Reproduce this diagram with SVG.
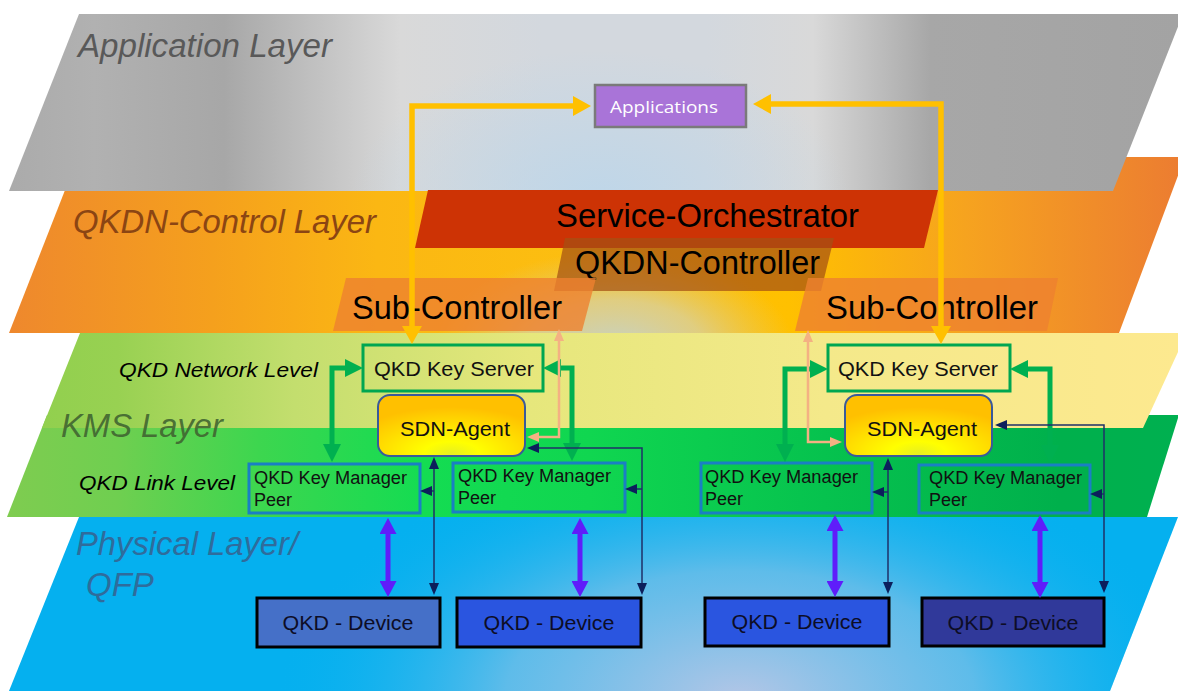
<svg xmlns="http://www.w3.org/2000/svg" width="1178" height="691" viewBox="0 0 1178 691">
<defs>
<style>
.lbl{font-family:"Liberation Sans",Arial,sans-serif;font-style:italic;font-size:33px}
.big{font-family:"Liberation Sans",Arial,sans-serif;font-size:32.5px;fill:#000}
.mid{font-family:"Liberation Sans",Arial,sans-serif;font-size:21px;fill:#111}
.lvl{font-family:"Liberation Sans",Arial,sans-serif;font-style:italic;font-size:21px;fill:#000}
.sm{font-family:"Liberation Sans",Arial,sans-serif;font-size:18px;fill:#111}
.dev{font-family:"Liberation Sans",Arial,sans-serif;font-size:21px;fill:#0d0d26;text-anchor:middle}
.ks{fill:none;stroke:#00a651;stroke-width:3}
.kmp{fill:none;stroke:#1a7fc4;stroke-width:3}
.sdn{fill:url(#gSdn);stroke:#3a5a9a;stroke-width:2}
.devbox{stroke:#000;stroke-width:3}
.yl{fill:none;stroke:#ffc000;stroke-width:5.5;marker-start:url(#mY);marker-end:url(#mY)}
.gr{fill:none;stroke:#00b050;stroke-width:5;marker-start:url(#mG);marker-end:url(#mG)}
.pc{fill:none;stroke:#f4b183;stroke-width:2.5;marker-start:url(#mP);marker-end:url(#mP)}
.nv{fill:none;stroke:#1f3068;stroke-width:1.5}
.nv2{marker-start:url(#mN);marker-end:url(#mN)}
.nv1{marker-end:url(#mN)}
.pu{fill:none;stroke:#5f1dfa;stroke-width:5;marker-start:url(#mV);marker-end:url(#mV)}
.sub{fill:#ee8130;fill-opacity:0.8}
</style>
<linearGradient id="gApp" gradientUnits="userSpaceOnUse" x1="0" y1="0" x2="1178" y2="0">
<stop offset="0" stop-color="#aaaaaa"/><stop offset="0.08" stop-color="#b1b1b1"/><stop offset="0.19" stop-color="#a7a7a7"/><stop offset="0.34" stop-color="#d9d9d9"/><stop offset="0.46" stop-color="#d3d8de"/><stop offset="0.6" stop-color="#d3d8de"/><stop offset="0.69" stop-color="#d9d9d9"/><stop offset="0.79" stop-color="#a7a7a7"/><stop offset="1" stop-color="#a3a3a3"/>
</linearGradient>
<radialGradient id="rApp" gradientUnits="userSpaceOnUse" cx="600" cy="200" r="250" gradientTransform="translate(600 200) scale(1 0.6) translate(-600 -200)">
<stop offset="0" stop-color="#bcd6ea" stop-opacity="0.9"/><stop offset="1" stop-color="#bcd6ea" stop-opacity="0"/>
</radialGradient>
<linearGradient id="gCtl" gradientUnits="userSpaceOnUse" x1="0" y1="0" x2="1178" y2="0">
<stop offset="0" stop-color="#ee872e"/><stop offset="0.18" stop-color="#f5a01d"/><stop offset="0.32" stop-color="#fbb713"/><stop offset="0.5" stop-color="#fcbf10"/><stop offset="0.67" stop-color="#ffc000"/><stop offset="0.82" stop-color="#f6a31f"/><stop offset="1" stop-color="#ec7d31"/>
</linearGradient>
<radialGradient id="rCtl" gradientUnits="userSpaceOnUse" cx="615" cy="350" r="180" gradientTransform="translate(615 350) scale(1 0.55) translate(-615 -350)">
<stop offset="0" stop-color="#c5d2c8" stop-opacity="1"/><stop offset="0.5" stop-color="#d6d2a8" stop-opacity="0.75"/><stop offset="1" stop-color="#e0cc80" stop-opacity="0"/>
</radialGradient>
<linearGradient id="gNet" gradientUnits="userSpaceOnUse" x1="0" y1="0" x2="1178" y2="0">
<stop offset="0" stop-color="#8ecf4c"/><stop offset="0.1" stop-color="#98d152"/><stop offset="0.25" stop-color="#c3de6e"/><stop offset="0.45" stop-color="#e6e77c"/><stop offset="0.7" stop-color="#f4e98a"/><stop offset="1" stop-color="#fde98f"/>
</linearGradient>
<linearGradient id="gLnk" gradientUnits="userSpaceOnUse" x1="0" y1="0" x2="1178" y2="0">
<stop offset="0" stop-color="#80cc50"/><stop offset="0.1" stop-color="#6fcf50"/><stop offset="0.22" stop-color="#3dd64f"/><stop offset="0.36" stop-color="#14dc52"/><stop offset="0.5" stop-color="#10d650"/><stop offset="0.7" stop-color="#06c24e"/><stop offset="0.9" stop-color="#00b04c"/><stop offset="1" stop-color="#00b050"/>
</linearGradient>
<radialGradient id="rPhy" gradientUnits="userSpaceOnUse" cx="740" cy="700" r="470" gradientTransform="translate(740 700) scale(1 0.55) translate(-740 -700)">
<stop offset="0" stop-color="#b4c6e6" stop-opacity="1"/><stop offset="0.5" stop-color="#7cc0e8" stop-opacity="0.75"/><stop offset="1" stop-color="#00b0f0" stop-opacity="0"/>
</radialGradient>
<radialGradient id="gSdn" cx="0.5" cy="0.95" r="0.75">
<stop offset="0" stop-color="#e8f020"/><stop offset="0.25" stop-color="#ffff00"/><stop offset="0.7" stop-color="#ffd800"/><stop offset="1" stop-color="#ffc000"/>
</radialGradient>
<marker id="mY" markerUnits="userSpaceOnUse" markerWidth="18" markerHeight="20" refX="6" refY="10" orient="auto-start-reverse"><path d="M0,0 L18,10 L0,20 Z" fill="#ffc000"/></marker>
<marker id="mG" markerUnits="userSpaceOnUse" markerWidth="18" markerHeight="18" refX="6" refY="9" orient="auto-start-reverse"><path d="M0,0 L18,9 L0,18 Z" fill="#00b050"/></marker>
<marker id="mP" markerUnits="userSpaceOnUse" markerWidth="12" markerHeight="10" refX="4" refY="5" orient="auto-start-reverse"><path d="M0,0 L12,5 L0,10 Z" fill="#f4b183"/></marker>
<marker id="mN" markerUnits="userSpaceOnUse" markerWidth="12" markerHeight="10" refX="4" refY="5" orient="auto-start-reverse"><path d="M0,0 L12,5 L0,10 Z" fill="#0c1f5c"/></marker>
<marker id="mV" markerUnits="userSpaceOnUse" markerWidth="16" markerHeight="17" refX="6" refY="8.5" orient="auto-start-reverse"><path d="M0,0 L16,8.5 L0,17 Z" fill="#5f1dfa"/></marker>
</defs>

<g id="layers">
<g id="physical-layer">
<polygon points="79,517 1178,517 1110,691 9,691" fill="#05b0ef"/>
<polygon points="79,517 1178,517 1110,691 9,691" fill="url(#rPhy)"/>
<text class="lbl" x="76" y="555" fill="#2f6c9c" textLength="222" lengthAdjust="spacingAndGlyphs">Physical Layer/</text>
<text class="lbl" x="86" y="596" fill="#2f6c9c">QFP</text>
</g>
<g id="kms-layer">
<polygon points="47,415 1178,415 1178,418 1147,517 7,517" fill="url(#gLnk)"/>
<polygon points="80,333 1178,333 1178,352 1143,428 42,428" fill="url(#gNet)"/>
<text class="lbl" x="61" y="437" fill="#3f6330" fill-opacity="0.9" textLength="162" lengthAdjust="spacingAndGlyphs">KMS Layer</text>
<text class="lvl" x="119" y="377" textLength="199" lengthAdjust="spacingAndGlyphs">QKD Network Level</text>
<text class="lvl" x="79" y="490" textLength="156" lengthAdjust="spacingAndGlyphs">QKD Link Level</text>
</g>
<g id="control-layer">
<polygon points="78,157 1185,157 1119,333 9,333" fill="url(#gCtl)"/>
<polygon points="78,157 1185,157 1119,333 9,333" fill="url(#rCtl)"/>
<text class="lbl" x="73" y="233" fill="#8b4513" textLength="303" lengthAdjust="spacingAndGlyphs">QKDN-Control Layer</text>
</g>
<g id="application-layer">
<polygon points="79,14 1183,14 1113,191 9,191" fill="url(#gApp)"/>
<polygon points="79,14 1183,14 1113,191 9,191" fill="url(#rApp)"/>
<text class="lbl" x="78" y="57" fill="#595959" textLength="254" lengthAdjust="spacingAndGlyphs">Application Layer</text>
</g>
</g>

<g id="applications">
<rect x="595" y="85" width="151" height="42" fill="#a974d8" stroke="#7a7a7a" stroke-width="2.5"/>
<text x="610" y="113" font-family="'Open Sans','Noto Sans',sans-serif" font-size="17" fill="#fff" textLength="108" lengthAdjust="spacingAndGlyphs">Applications</text>
</g>
<g id="service-orchestrator">
<polygon points="428,190 938,190 924,248 415,248" fill="#cd3305"/>
<text class="big" x="556" y="227" textLength="303" lengthAdjust="spacingAndGlyphs">Service-Orchestrator</text>
</g>
<g id="qkdn-controller">
<polygon points="565,238 834,238 821,291 554,291" fill="#a55014" fill-opacity="0.72"/>
<text class="big" x="575" y="274" textLength="245" lengthAdjust="spacingAndGlyphs">QKDN-Controller</text>
</g>
<g id="sub-controller-left">
<polygon class="sub" points="346,278 596,278 582,331 333,331"/>
<text class="big" x="352" y="319" textLength="210" lengthAdjust="spacingAndGlyphs">Sub-Controller</text>
</g>
<g id="sub-controller-right">
<polygon class="sub" points="808,278 1058,278 1047,331 795,331"/>
<text class="big" x="826" y="319" textLength="212" lengthAdjust="spacingAndGlyphs">Sub-Controller</text>
</g>

<g id="key-server-left">
<rect class="ks" x="363" y="345" width="180" height="46"/>
<text class="mid" x="374" y="376" textLength="160" lengthAdjust="spacingAndGlyphs">QKD Key Server</text>
</g>
<g id="key-server-right">
<rect class="ks" x="828" y="345" width="182" height="46"/>
<text class="mid" x="838" y="376" textLength="160" lengthAdjust="spacingAndGlyphs">QKD Key Server</text>
</g>
<g id="sdn-agent-left">
<rect class="sdn" x="378" y="395" width="147" height="61" rx="12"/>
<text class="mid" x="400" y="436" font-size="22" textLength="110" lengthAdjust="spacingAndGlyphs">SDN-Agent</text>
</g>
<g id="sdn-agent-right">
<rect class="sdn" x="845" y="395" width="147" height="61" rx="12"/>
<text class="mid" x="867" y="436" font-size="22" textLength="110" lengthAdjust="spacingAndGlyphs">SDN-Agent</text>
</g>
<g id="kmp-1">
<rect class="kmp" x="249" y="464" width="171" height="49"/>
<text class="sm" x="254" y="484" textLength="153" lengthAdjust="spacingAndGlyphs">QKD Key Manager</text>
<text class="sm" x="254" y="506">Peer</text>
</g>
<g id="kmp-2">
<rect class="kmp" x="453" y="463" width="172" height="49"/>
<text class="sm" x="458" y="482" textLength="153" lengthAdjust="spacingAndGlyphs">QKD Key Manager</text>
<text class="sm" x="458" y="504">Peer</text>
</g>
<g id="kmp-3">
<rect class="kmp" x="701" y="463" width="171" height="50"/>
<text class="sm" x="705" y="483" textLength="153" lengthAdjust="spacingAndGlyphs">QKD Key Manager</text>
<text class="sm" x="705" y="505">Peer</text>
</g>
<g id="kmp-4">
<rect class="kmp" x="919" y="465" width="171" height="48"/>
<text class="sm" x="929" y="484" textLength="153" lengthAdjust="spacingAndGlyphs">QKD Key Manager</text>
<text class="sm" x="929" y="506">Peer</text>
</g>
<g id="device-1">
<rect class="devbox" x="257" y="598" width="183" height="49" fill="#4570c8"/>
<text class="dev" x="348" y="630" textLength="131" lengthAdjust="spacingAndGlyphs">QKD - Device</text>
</g>
<g id="device-2">
<rect class="devbox" x="457" y="598" width="184" height="49" fill="#2a55e0"/>
<text class="dev" x="549" y="630" textLength="131" lengthAdjust="spacingAndGlyphs">QKD - Device</text>
</g>
<g id="device-3">
<rect class="devbox" x="705" y="598" width="184" height="48" fill="#2a55e0"/>
<text class="dev" x="797" y="629" textLength="131" lengthAdjust="spacingAndGlyphs">QKD - Device</text>
</g>
<g id="device-4">
<rect class="devbox" x="922" y="598" width="182" height="48" fill="#30399a"/>
<text class="dev" x="1013" y="630" textLength="131" lengthAdjust="spacingAndGlyphs">QKD - Device</text>
</g>

<g id="connectors">
<path class="yl" d="M412,332 V106 H579"/>
<path class="yl" d="M941,332 V104 H765"/>
<path class="gr" d="M332,450 V368 H351"/>
<path class="gr" d="M555,368 H572 V449"/>
<path class="gr" d="M785,450 V369 H816"/>
<path class="gr" d="M1022,369 H1050 V451"/>
<path class="pc" d="M559,337 V437 H535"/>
<path class="pc" d="M808,338 V442 H834"/>
<path class="nv nv2" d="M434,465 V587"/>
<path class="nv nv1" d="M434,491 H428"/>
<path class="nv nv2" d="M535,448 H642 V587"/>
<path class="nv nv1" d="M642,489 H633"/>
<path class="nv nv2" d="M888,466 V586"/>
<path class="nv nv1" d="M888,492 H880"/>
<path class="nv nv2" d="M1003,425 H1104 V585"/>
<path class="nv nv1" d="M1104,494 H1098"/>
<path class="pu" d="M388,528 V587"/>
<path class="pu" d="M580,528 V587"/>
<path class="pu" d="M835,525 V587"/>
<path class="pu" d="M1040,525 V588"/>
</g>
</svg>
